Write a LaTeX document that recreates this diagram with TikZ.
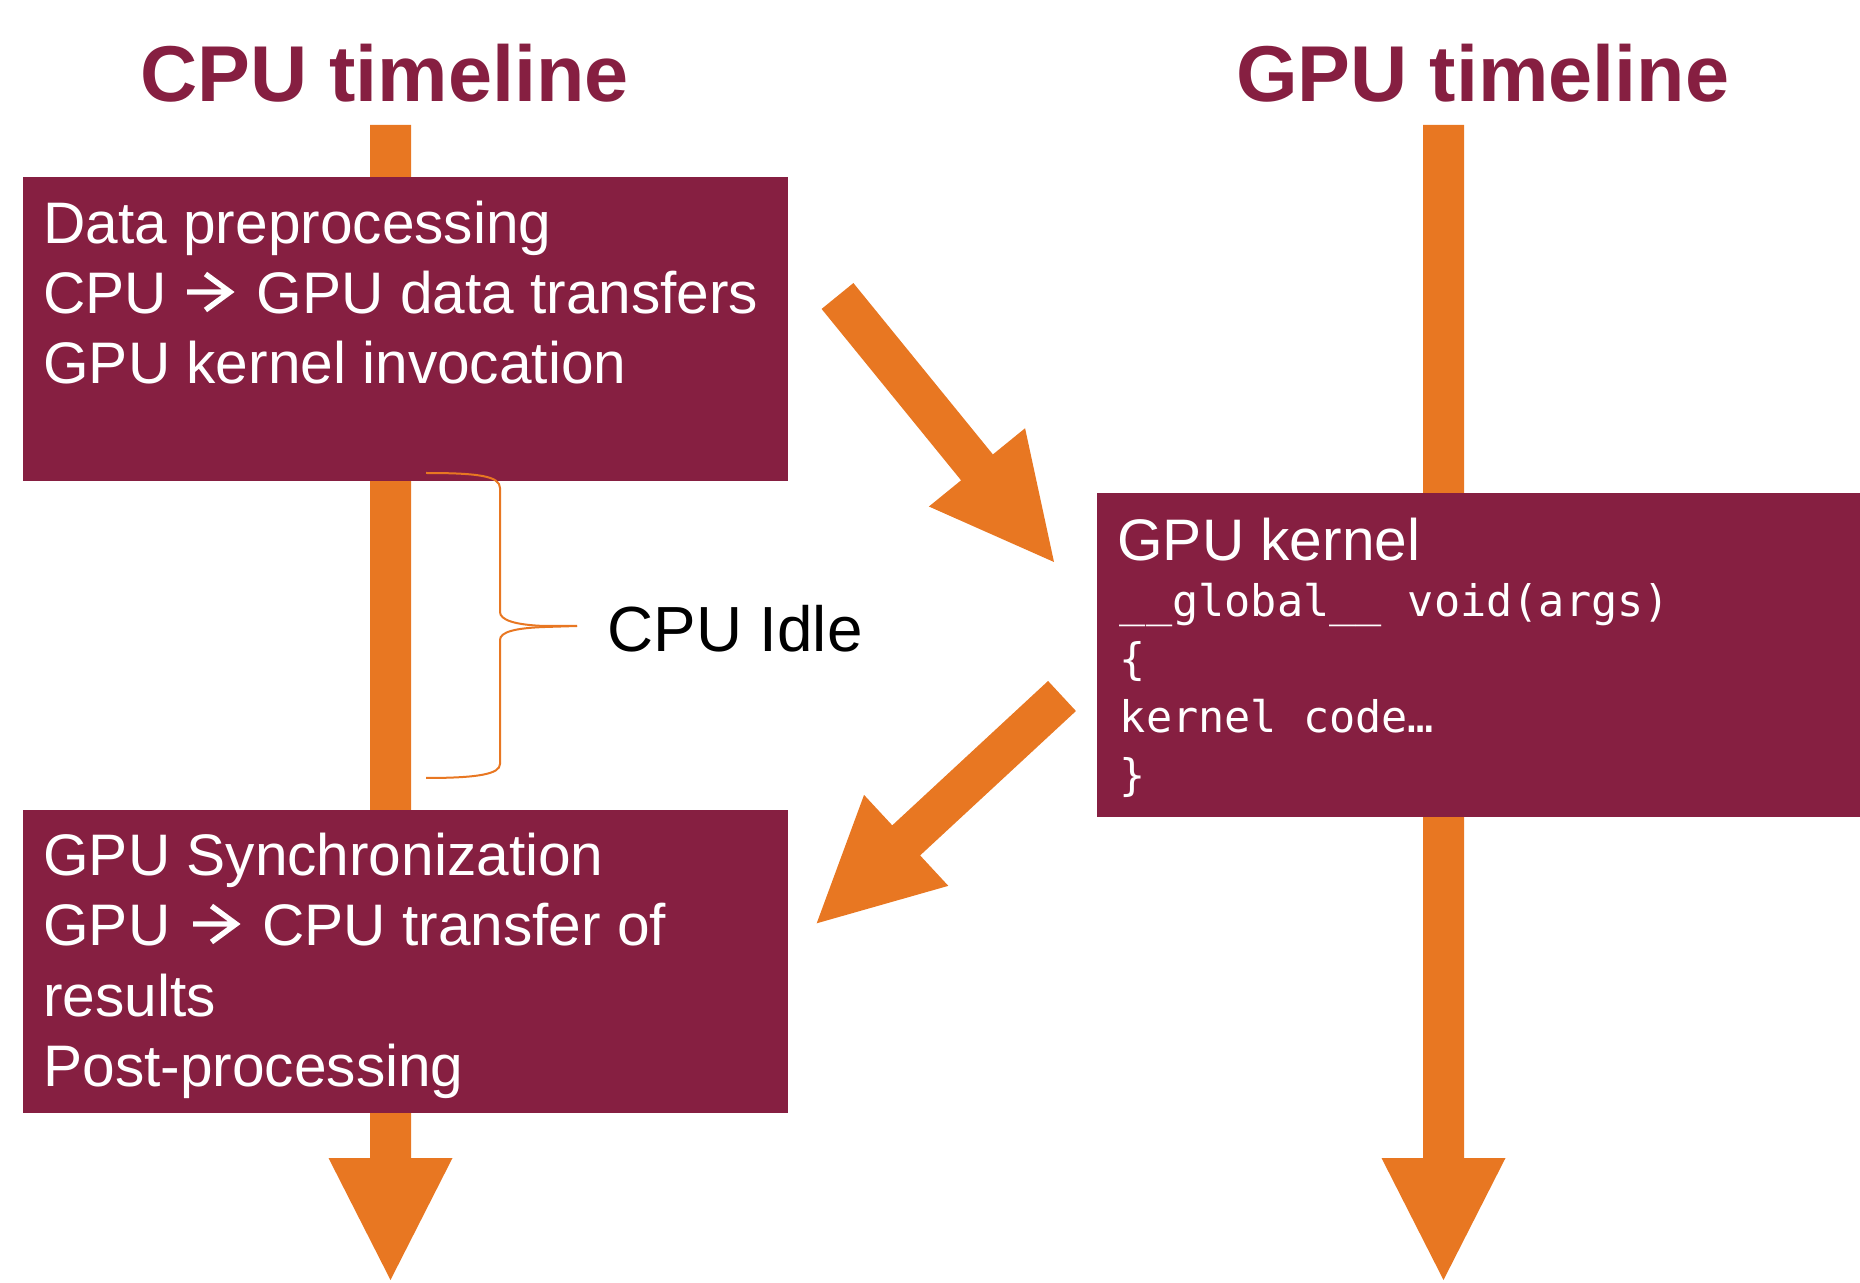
\documentclass[tikz,border=0pt]{standalone}
\usepackage{fontspec}
\setmainfont{Liberation Sans}
\setmonofont{DejaVu Sans Mono}
\usetikzlibrary{calc}

\definecolor{vtmaroon}{HTML}{861F41}
\definecolor{vtorange}{HTML}{E87722}

% broad block arrow from #1 (tail centre) to #2 (tip)
\newcommand\fatarrow[2]{%
  \coordinate (#1-#2-h) at ($(#2)!61pt!(#1)$);
  \fill[vtorange]
    ($(#1)!10.25pt!90:(#2)$) -- ($(#1-#2-h)!10.25pt!90:(#2)$) --
    ($(#1-#2-h)!31pt!90:(#2)$) -- (#2) --
    ($(#1-#2-h)!31pt!-90:(#2)$) -- ($(#1-#2-h)!10.25pt!-90:(#2)$) --
    ($(#1)!10.25pt!-90:(#2)$) -- cycle;}

\tikzset{
  stagebox/.style={fill=vtmaroon, draw=none, inner sep=0pt, anchor=north west},
  title/.style={text=vtmaroon, inner sep=0pt, anchor=base,
    font=\fontsize{39.6pt}{44pt}\selectfont\bfseries},
  boxtext/.style={text=white, inner sep=0pt, anchor=base west,
    font=\fontsize{29.3pt}{35pt}\selectfont},
  codetext/.style={text=white, inner sep=0pt, anchor=base west,
    font=\fontsize{21.75pt}{28pt}\selectfont\ttfamily},
  brace/.style={draw=vtorange, line width=1pt},
  % open-headed arrow inside a text line, placed at its left end on the baseline
  chevron/.pic={
    \draw[white, line width=2.7pt, line cap=butt, line join=miter]
      (0,-21.5) -- (43,-21.5)
      (18.5,-39.5) -- (43,-21.5) -- (18.5,-3.5);
  },
}

\begin{document}
\begin{tikzpicture}[x=0.5pt, y=-0.5pt]
  \useasboundingbox (0,0) rectangle (1860,1283);

  % timeline titles
  \node[title] (cputitle) at (384.5,102) {CPU timeline};
  \node[title] (gputitle) at (1482.7,102) {GPU timeline};

  % timelines
  \coordinate (cputop) at (390.5,125);
  \coordinate (cpuend) at (390.5,1280);
  \coordinate (gputop) at (1443.5,125);
  \coordinate (gpuend) at (1443.5,1280);
  \fatarrow{cputop}{cpuend}
  \fatarrow{gputop}{gpuend}

  % stages
  \node[stagebox, minimum width=382.75pt, minimum height=151.75pt] (prep) at (22.5,177) {};
  \node[stagebox, minimum width=382.75pt, minimum height=151.5pt] (post) at (22.5,810) {};
  \node[stagebox, minimum width=381.5pt, minimum height=161.75pt] (kernel) at (1097,493) {};

  % launch and return
  \coordinate (launchs) at (837.5,296);
  \coordinate (launche) at (1054,562);
  \coordinate (returns) at (1062,696);
  \coordinate (returne) at (816.7,923.3);
  \fatarrow{launchs}{launche}
  \fatarrow{returns}{returne}

  % idle period brace
  \coordinate (idletip) at (577,626);
  \draw[brace] (426,473) .. controls (478,473) and (500,476) .. (500,488)
    -- (500,612) .. controls (500,620) and (515,625) .. (545,626) -- (idletip);
  \draw[brace] (idletip) -- (545,627) .. controls (515,628) and (500,632) .. (500,640)
    -- (500,764) .. controls (500,774) and (478,778) .. (426,778);
  \node[inner sep=0pt, anchor=base west, font=\fontsize{31.9pt}{36pt}\selectfont]
    (idle) at (607,651.5) {CPU Idle};

  % stage texts
  \node[boxtext] (p1) at (43,243.5) {Data preprocessing};
  \node[boxtext] (p2a) at (43,313.5) {CPU};
  \pic at (187,313.5) {chevron};
  \node[boxtext] (p2b) at (256.4,313.5) {GPU data transfers};
  \node[boxtext] (p3) at (43,383.5) {GPU kernel invocation};

  \node[boxtext] (q1) at (43,875) {GPU Synchronization};
  \node[boxtext] (q2a) at (43,945.5) {GPU};
  \pic at (193,945.5) {chevron};
  \node[boxtext] (q2b) at (262,945.5) {CPU transfer of};
  \node[boxtext] (q3) at (43,1016) {results};
  \node[boxtext] (q4) at (43,1086.5) {Post-processing};

  \node[boxtext] (k0) at (1117,561) {GPU kernel};
  \node[codetext] (k1) at (1119.5,617) {\_\_global\_\_ void(args)};
  \node[codetext] (k2) at (1119.5,675) {\{};
  \node[codetext] (k3) at (1119.5,733) {kernel code…};
  \node[codetext] (k4) at (1119.5,791) {\}};
\end{tikzpicture}
\end{document}
